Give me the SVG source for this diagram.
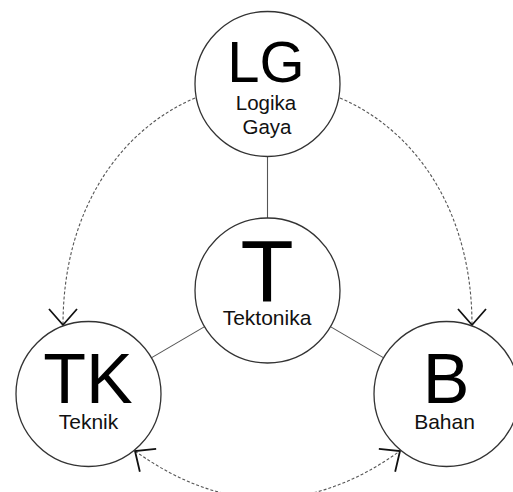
<svg xmlns="http://www.w3.org/2000/svg" width="513" height="492" viewBox="0 0 513 492">
<style>
.node circle{fill:#fff;stroke:#333;stroke-width:1.3}
.big{font-family:"Liberation Sans",Arial,sans-serif;fill:#000;text-anchor:middle}
.lbl{font-family:"Liberation Sans",Arial,sans-serif;fill:#111;text-anchor:middle;font-size:20.5px}
.solid{stroke:#555;stroke-width:1.1;fill:none}
.dash{stroke:#555;stroke-width:1.1;fill:none;stroke-dasharray:3 2}
</style>
<defs>
<marker id="arr" markerUnits="userSpaceOnUse" markerWidth="40" markerHeight="40" viewBox="-20 -20 40 40" refX="0" refY="0" orient="auto-start-reverse">
<path d="M-16,-14 L0,0 L-16,14" fill="none" stroke="#111" stroke-width="1.8"/>
</marker>
</defs>
<rect width="513" height="492" fill="#fff"/>
<g id="connectors">
<line class="solid" x1="267.5" y1="156.5" x2="267.5" y2="218"/>
<line class="solid" x1="204.6" y1="326.6" x2="151.3" y2="357.9"/>
<line class="solid" x1="330.4" y1="326.6" x2="383.7" y2="357.9"/>
<path class="dash" d="M195,98 C120,130 63,210 63,325" marker-end="url(#arr)"/>
<path class="dash" d="M340,98 C415,130 472,210 472,325" marker-end="url(#arr)"/>
<path class="dash" d="M135,451 Q267.5,546 400,451" marker-start="url(#arr)" marker-end="url(#arr)"/>
</g>
<g id="LG" class="node">
<circle cx="267.5" cy="84" r="72.5"/>
<text class="big" x="266" y="82" font-size="58">LG</text>
<text class="lbl" x="266" y="110">Logika</text>
<text class="lbl" x="267" y="134">Gaya</text>
</g>
<g id="T" class="node">
<circle cx="267.5" cy="290.5" r="72.5"/>
<text class="big" x="267" y="301" font-size="87">T</text>
<text class="lbl" x="267" y="325" font-size="21px" style="font-size:21px">Tektonika</text>
</g>
<g id="TK" class="node">
<circle cx="88.5" cy="394" r="72.5"/>
<text class="big" x="88" y="402.7" font-size="70">TK</text>
<text class="lbl" x="88.5" y="428.5" style="font-size:21px">Teknik</text>
</g>
<g id="B" class="node">
<circle cx="446.5" cy="394" r="72.5"/>
<text class="big" x="446" y="402.7" font-size="70">B</text>
<text class="lbl" x="444.5" y="429" style="font-size:21px">Bahan</text>
</g>
</svg>
